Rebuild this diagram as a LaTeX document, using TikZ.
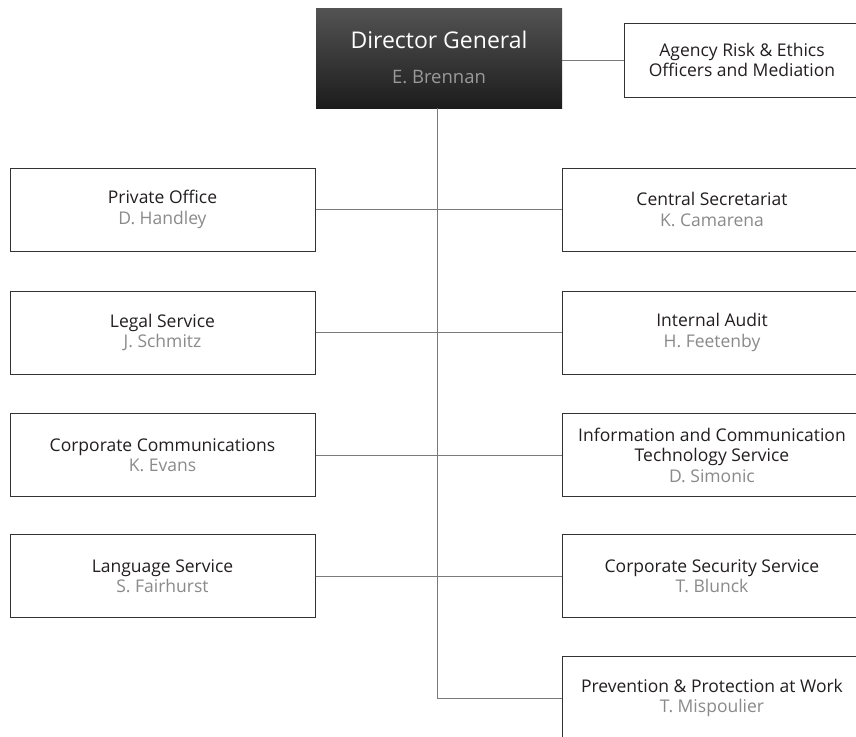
\documentclass[tikz,border=0pt]{standalone}
\usepackage{fontspec}
\setmainfont{Open Sans}
\definecolor{ttl}{HTML}{231F20}
\definecolor{nm}{HTML}{8A8A8A}
\definecolor{bord}{HTML}{333333}
\definecolor{conn}{HTML}{7A7A7A}
\definecolor{dgtop}{HTML}{535353}
\definecolor{dgbot}{HTML}{1C1C1C}
\definecolor{dgname}{HTML}{9A9A9A}
\newcommand{\nmx}[1]{\textcolor{nm}{#1}}
\tikzset{
  unitbox/.style={draw=bord, line width=1pt, fill=white, align=center,
    text=ttl, font=\fontsize{17.5}{20.5}\selectfont, inner sep=0pt},
  lbox/.style={unitbox, minimum width=305pt, minimum height=83pt},
  rbox/.style={unitbox, minimum width=300pt, minimum height=83pt},
  conline/.style={draw=conn, line width=1pt},
}
\begin{document}
\begin{tikzpicture}[x=1pt,y=-1pt]
\useasboundingbox (0,0) rectangle (856,736);
\clip (0,0) rectangle (856,736);
\fill[white] (0,0) rectangle (856,736);
% director general
\node[top color=dgtop, bottom color=dgbot, minimum width=246pt, minimum height=100pt,
  inner sep=0pt] (dg) at (439,58) {};
\node[anchor=base, text=white, font=\fontsize{23}{25}\selectfont, inner sep=0pt]
  (dgt) at (439,48) {Director General};
\node[anchor=base, text=dgname, font=\fontsize{18.5}{20}\selectfont, inner sep=0pt]
  (dgn) at (439,83) {E. Brennan};
\node[unitbox, minimum width=236pt, minimum height=74pt] (ag) at (742,60)
  {Agency Risk \& Ethics\\Officers and Mediation};
% left column
\node[lbox] (po) at (162.5,209.5) {Private Office\\\nmx{D. Handley}};
\node[lbox] (ls) at (162.5,332.5) {Legal Service\\\nmx{J. Schmitz}};
\node[lbox] (cc) at (162.5,455) {Corporate Communications\\\nmx{K. Evans}};
\node[lbox] (lg) at (162.5,576) {Language Service\\\nmx{S. Fairhurst}};
% right column
\node[rbox] (cs) at (712,209.5) {Central Secretariat\\\nmx{K. Camarena}};
\node[rbox] (ia) at (712,332.5) {Internal Audit\\\nmx{H. Feetenby}};
\node[rbox] (ict) at (712,455) {Information and Communication\\Technology Service\\\nmx{D. Simonic}};
\node[rbox] (css) at (712,576) {Corporate Security Service\\\nmx{T. Blunck}};
\node[rbox] (pp) at (712,698) {Prevention \& Protection at Work\\\nmx{T. Mispoulier}};
% connectors
\coordinate (vtop) at (437,108);
\coordinate (vbot) at (437,698);
\draw[conline] (ag.west -| dg.east) -- (ag.west);
\draw[conline] (vtop) -- (vbot) -- (pp.west);
\draw[conline] (po.east) -- (cs.west);
\draw[conline] (ls.east) -- (ia.west);
\draw[conline] (cc.east) -- (ict.west);
\draw[conline] (lg.east) -- (css.west);
\end{tikzpicture}
\end{document}
